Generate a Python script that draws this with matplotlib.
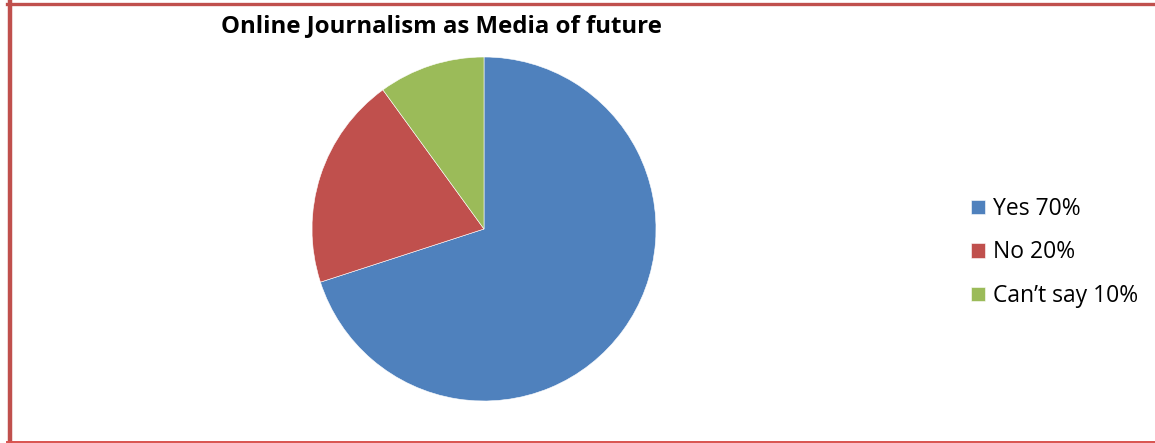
import matplotlib
matplotlib.use('Agg')

import matplotlib.pyplot as plt
from matplotlib.lines import Line2D

labels = ['Yes 70%', 'No 20%', 'Can\u2019t say 10%']
values = [70, 20, 10]
colors = ['#4F81BD', '#C0504D', '#9BBB59']

W, H = 1155, 443
fig = plt.figure(figsize=(W / 100, H / 100), dpi=100)
ax = fig.add_axes([0, 0, 1, 1])

# pie in pixel coordinates, starting at 12 o'clock and going clockwise
wedges, _ = ax.pie(values, colors=colors, startangle=90, counterclock=False,
                   center=(484, H - 229), radius=172, frame=True,
                   wedgeprops={'edgecolor': 'white', 'linewidth': 0.4})
ax.set_xlim(0, W)
ax.set_ylim(0, H)
ax.set_aspect('auto')
ax.axis('off')

font = ['Open Sans', 'DejaVu Sans']
ax.text(441.5, H - 26, 'Online Journalism as Media of future', ha='center', va='center',
        fontsize=17.3, fontweight='bold', family=font)

leg = ax.legend(wedges, labels, loc='upper left', bbox_to_anchor=(971 / W, 1 - 197 / H),
                frameon=False, borderpad=0, borderaxespad=0,
                handlelength=0.61, handleheight=0.61, handletextpad=0.35,
                labelspacing=0.85, prop={'family': font, 'size': 16.5})

# red frame around the chart
red = '#C0504D'
fig.add_artist(Line2D([9.5 / W, 9.5 / W], [1 - 2 / H, 1 - 441 / H], color=red, lw=3.2,
                      transform=fig.transFigure))
fig.add_artist(Line2D([7 / W, 1], [1 - 3.5 / H, 1 - 3.5 / H], color=red, lw=2.4,
                      transform=fig.transFigure))
fig.add_artist(Line2D([7 / W, 1], [1 - 441.5 / H, 1 - 441.5 / H], color='#D9534F', lw=1.4,
                      transform=fig.transFigure))

fig.savefig('out.png', dpi=100)
